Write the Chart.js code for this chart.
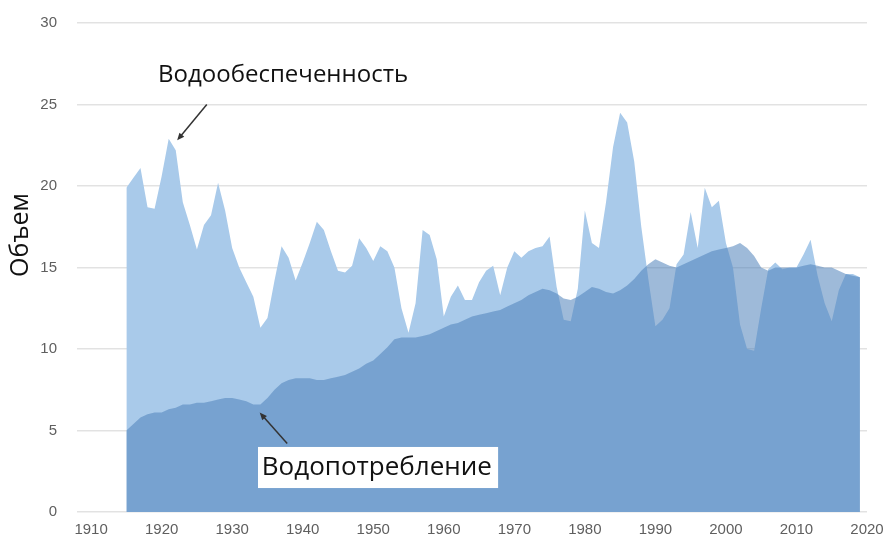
<!DOCTYPE html>
<html>
<head>
<meta charset="utf-8">
<script src="https://cdn.jsdelivr.net/npm/chart.js@4.4.1/dist/chart.umd.min.js"></script>
<style>
  html, body { margin: 0; padding: 0; background: #fff; }
  #wrap { width: 887px; height: 545px; }
</style>
</head>
<body>
<div id="wrap"><canvas id="chart"></canvas></div>
<script>
// годы наблюдений
const years = [];
for (let y = 1915; y <= 2019; y++) years.push(y);

// Водообеспеченность
const supply = [
  19.9, 20.5, 21.1, 18.7, 18.6, 20.6, 22.9, 22.2, 19.0, 17.6,  // 1915-1924
  16.1, 17.6, 18.2, 20.2, 18.5, 16.2, 15.0, 14.1, 13.2, 11.3,  // 1925-1934
  11.9, 14.2, 16.3, 15.6, 14.2, 15.3, 16.5, 17.8, 17.3, 16.0,  // 1935-1944
  14.8, 14.7, 15.1, 16.8, 16.2, 15.4, 16.3, 16.0, 15.0, 12.5,  // 1945-1954
  11.0, 12.8, 17.3, 17.0, 15.5, 12.0, 13.2, 13.9, 13.0, 13.0,  // 1955-1964
  14.1, 14.8, 15.1, 13.3, 15.0, 16.0, 15.6, 16.0, 16.2, 16.3,  // 1965-1974
  16.9, 13.8, 11.8, 11.7, 13.7, 18.5, 16.5, 16.2, 19.0, 22.4,  // 1975-1984
  24.5, 23.9, 21.5, 17.5, 14.3, 11.4, 11.8, 12.5, 15.2, 15.8,  // 1985-1994
  18.4, 16.2, 19.9, 18.7, 19.1, 16.5, 15.0, 11.5, 10.0, 9.9,   // 1995-2004
  12.5, 14.9, 15.3, 14.9, 15.0, 15.0, 15.8, 16.7, 14.5, 12.8,  // 2005-2014
  11.7, 13.6, 14.6, 14.6, 14.4                                 // 2015-2019
];

// Водопотребление
const demand = [
  5.0, 5.4, 5.8, 6.0, 6.1, 6.1, 6.3, 6.4, 6.6, 6.6,            // 1915-1924
  6.7, 6.7, 6.8, 6.9, 7.0, 7.0, 6.9, 6.8, 6.6, 6.6,            // 1925-1934
  7.0, 7.5, 7.9, 8.1, 8.2, 8.2, 8.2, 8.1, 8.1, 8.2,            // 1935-1944
  8.3, 8.4, 8.6, 8.8, 9.1, 9.3, 9.7, 10.1, 10.6, 10.7,         // 1945-1954
  10.7, 10.7, 10.8, 10.9, 11.1, 11.3, 11.5, 11.6, 11.8, 12.0,  // 1955-1964
  12.1, 12.2, 12.3, 12.4, 12.6, 12.8, 13.0, 13.3, 13.5, 13.7,  // 1965-1974
  13.6, 13.4, 13.1, 13.0, 13.2, 13.5, 13.8, 13.7, 13.5, 13.4,  // 1975-1984
  13.6, 13.9, 14.3, 14.8, 15.2, 15.5, 15.3, 15.1, 15.0, 15.2,  // 1985-1994
  15.4, 15.6, 15.8, 16.0, 16.1, 16.2, 16.3, 16.5, 16.2, 15.7,  // 1995-2004
  15.0, 14.8, 15.0, 15.0, 15.0, 15.0, 15.1, 15.2, 15.1, 15.0,  // 2005-2014
  15.0, 14.8, 14.6, 14.5, 14.4                                 // 2015-2019
];

const xTicks = [1910, 1920, 1930, 1940, 1950, 1960, 1970, 1980, 1990, 2000, 2010, 2020];
const yTicks = [0, 5, 10, 15, 20, 25, 30];

const tickFont = { family: "'Liberation Sans', Arial, sans-serif", size: 15 };
const tickColor = '#5f5f5f';
const textFont = "'Open Sans', 'Noto Sans', sans-serif";

// подписи со стрелками
const annotations = {
  supply: { label: 'Водообеспеченность', size: 24, textAt: [1919.5, 26.4], from: [1926.4, 25.0], to: [1922.2, 22.8] },
  demand: { label: 'Водопотребление', size: 26, textAt: [1934.2, 2.3], from: [1937.8, 4.2], to: [1933.9, 6.1],
            box: [1933.66, 3.99, 1967.7, 1.47] }
};

function arrow(ctx, x1, y1, x2, y2) {
  const a = Math.atan2(y2 - y1, x2 - x1);
  const head = 8;
  ctx.beginPath();
  ctx.moveTo(x1, y1);
  ctx.lineTo(x2 - Math.cos(a) * 4, y2 - Math.sin(a) * 4);
  ctx.stroke();
  ctx.beginPath();
  ctx.moveTo(x2, y2);
  ctx.lineTo(x2 - head * Math.cos(a - 0.4), y2 - head * Math.sin(a - 0.4));
  ctx.lineTo(x2 - head * Math.cos(a + 0.4), y2 - head * Math.sin(a + 0.4));
  ctx.closePath();
  ctx.fill();
}

const labelsPlugin = {
  id: 'labels',
  afterDraw(chart) {
    const { ctx, scales: { x, y } } = chart;
    const px = p => [x.getPixelForValue(p[0]), y.getPixelForValue(p[1])];
    ctx.save();
    ctx.fillStyle = '#111';
    ctx.strokeStyle = '#333';
    ctx.lineWidth = 1.5;

    // Объем
    ctx.save();
    ctx.translate(21, 235);
    ctx.rotate(-Math.PI / 2);
    ctx.font = '25px ' + textFont;
    ctx.textAlign = 'center';
    ctx.textBaseline = 'middle';
    ctx.fillText('Объем', 0, 0);
    ctx.restore();

    const s = annotations.supply;
    let f = px(s.from), t = px(s.to);
    ctx.fillStyle = '#333';
    arrow(ctx, f[0], f[1], t[0], t[1]);

    const d = annotations.demand;
    f = px(d.from); t = px(d.to);
    arrow(ctx, f[0], f[1], t[0], t[1]);

    const b1 = px([d.box[0], d.box[1]]), b2 = px([d.box[2], d.box[3]]);
    ctx.fillStyle = '#fff';
    ctx.fillRect(b1[0], b1[1], b2[0] - b1[0], b2[1] - b1[1]);

    ctx.fillStyle = '#111';
    ctx.textAlign = 'left';
    ctx.textBaseline = 'alphabetic';
    let p = px(s.textAt);
    ctx.font = s.size + 'px ' + textFont;
    ctx.fillText(s.label, p[0], p[1]);
    p = px(d.textAt);
    ctx.font = d.size + 'px ' + textFont;
    ctx.fillText(d.label, p[0], p[1]);
    ctx.restore();
  }
};

new Chart(document.getElementById('chart'), {
  type: 'line',
  data: {
    datasets: [
      {
        label: 'Водообеспеченность',
        data: years.map((yr, i) => ({ x: yr, y: supply[i] })),
        backgroundColor: 'rgb(169, 202, 234)',
        borderWidth: 0,
        pointRadius: 0,
        fill: 'origin',
        tension: 0,
        order: 2
      },
      {
        label: 'Водопотребление',
        data: years.map((yr, i) => ({ x: yr, y: demand[i] })),
        backgroundColor: 'rgba(78, 130, 186, 0.55)',
        borderWidth: 0,
        pointRadius: 0,
        fill: 'origin',
        tension: 0,
        order: 1
      }
    ]
  },
  options: {
    responsive: true,
    maintainAspectRatio: false,
    animation: false,
    layout: {
      padding: { left: 0, right: 20, top: 23, bottom: 0 }
    },
    plugins: {
      legend: { display: false },
      tooltip: { enabled: false }
    },
    scales: {
      x: {
        type: 'linear',
        min: 1908,
        max: 2020,
        afterBuildTicks: s => { s.ticks = xTicks.map(v => ({ value: v })); },
        afterFit: s => { s.height = 33; s.paddingLeft = 0; s.paddingRight = 0; },
        grid: { display: false, drawTicks: false },
        border: { display: false },
        ticks: { font: tickFont, color: tickColor, padding: 9, maxRotation: 0, callback: v => String(v) }
      },
      y: {
        min: 0,
        max: 30,
        z: 1,
        afterBuildTicks: s => { s.ticks = yTicks.map(v => ({ value: v })); },
        afterFit: s => { s.width = 77; s.paddingTop = 0; s.paddingBottom = 0; },
        grid: { color: 'rgba(190, 190, 190, 0.45)', lineWidth: 1.5, drawTicks: false },
        border: { display: false },
        ticks: { font: tickFont, color: tickColor, padding: 20 }
      }
    }
  },
  plugins: [labelsPlugin]
});
</script>
</body>
</html>
